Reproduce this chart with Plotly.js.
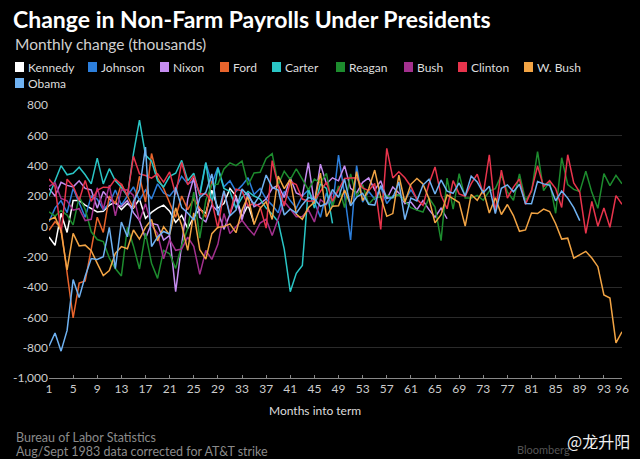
<!DOCTYPE html>
<html>
<head>
<meta charset="utf-8">
<script src="https://cdn.plot.ly/plotly-3.0.1.min.js"></script>
<style>html,body{margin:0;padding:0;background:#000;}#chart{width:640px;height:459px;}</style>
</head>
<body>
<div id="chart"></div>
<script>
// ---- Data (monthly change in non-farm payrolls, thousands) ----
const presidents = ['Kennedy','Johnson','Nixon','Ford','Carter','Reagan','Bush','Clinton','W. Bush','Obama'];
const colors = ['#ffffff','#2d7fdc','#c58cf0','#e8642c','#2ac6c6','#1d8c2e','#a3308e','#e8344c','#f2a444','#6fb2f2'];

const kennedy = [-70,-125,86,-40,170,170,140,120,95,100,140,160,110,150,120,180,53,92,120,140,100,26,73,-13,60,112,86,238,120,150,250,200,60,140,20];
const johnson = [30,120,170,90,250,160,60,200,180,110,150,240,140,200,260,170,240,180,280,220,200,250,330,280,300,220,420,280,390,260,300,230,270,320,210,250,180,140,90,230,170,120,200,240,160,60,220,130,470,210,-90,400,160,230,180,260,150,200,210,170,240,180];
const nixon = [250,200,290,270,260,300,250,240,120,230,180,150,130,170,90,40,-80,20,10,-90,-60,-430,-120,180,320,60,30,140,100,-20,80,190,40,220,130,150,180,250,270,190,320,220,200,420,150,410,280,320,300,400,250,220,290,320,240,300,180,260,220,150,160,110,170,110,60,120,50];
const ford = [-26,30,-10,-290,-604,-374,-360,-150,60,-40,200,150,280,200,120,330,160,480,320,250,150,60,200,110,180,120,60,300];
const carter = [200,300,400,340,350,390,340,280,450,280,380,300,257,200,480,700,470,430,300,260,330,350,435,300,350,200,420,150,383,250,230,120,190,230,200,180,120,80,30,-150,-431,-310,-258,250,120,280,250,20];
const reagan = [95,67,104,74,10,196,112,-36,-87,-100,-209,-278,-327,-6,-129,-281,-45,-243,-343,-158,-181,-277,-124,-14,225,-78,173,276,277,378,418,400,430,271,352,356,447,479,275,363,308,379,312,241,311,286,349,128,266,124,346,195,274,146,190,193,204,187,209,168,123,107,94,187,127,-94,318,114,347,186,186,204,172,232,249,338,227,172,345,171,228,492,236,293,86,452,276,244,229,363,224,119,347,268,336,281];
const bush = [263,288,184,168,106,116,38,46,254,112,272,69,240,241,204,35,149,8,-47,-214,-87,-158,-150,-71,-132,-317,-159,-218,-119,84,-48,-2,40,-12,-57,22,47,-61,55,164,114,64,65,109,29,177,143,224];
const clinton = [312,264,-44,311,265,170,303,165,237,258,256,311,276,201,462,346,335,318,346,291,359,210,421,273,334,214,215,166,-14,232,80,245,234,134,151,128,-12,433,266,133,295,276,180,166,168,234,291,166,237,316,318,320,253,235,283,-20,514,319,360,320,263,178,138,281,392,204,116,301,214,198,281,344,213,472,92,370,186,259,313,145,237,398,262,301,249,124,472,286,224,-46,164,0,121,-6,203,145];
const wbush = [42,61,-31,-287,-46,-129,-124,-160,-244,-325,-292,-178,-134,-148,-24,-84,-7,45,-96,-3,-56,122,7,-159,88,-154,-216,-48,-6,-2,16,-42,107,199,12,119,162,45,332,249,310,81,47,122,160,351,64,133,136,240,142,360,170,246,371,194,66,84,337,159,277,315,280,182,23,77,207,184,157,2,210,171,238,88,188,78,144,71,-33,-24,88,84,114,98,17,-84,-78,-210,-185,-165,-209,-266,-452,-473,-769,-695];
const obama = [-791,-703,-823,-686,-351,-470,-329,-212,-219,-200,-7,-279,28,-69,163,243,522,-133,-70,-34,-52,257,123,88,42,188,225,346,73,235,70,107,246,202,146,207,338,257,239,75,115,87,143,190,181,132,149,243,190,311,135,192,218,146,140,269,185,189,291,45,187,168,272,310,213,306,232,218,286,200,331,292,221,265,84,251,273,228,277,150,149,295,280,271,168,233,186,123,38];

const series = [kennedy, johnson, nixon, ford, carter, reagan, bush, clinton, wbush, obama];

const xTicks = [1,5,9,13,17,21,25,29,33,37,41,45,49,53,57,61,65,69,73,77,81,85,89,93,96];
const yTicks = [-1000,-800,-600,-400,-200,0,200,400,600,800];
const yTickText = ['-1,000','-800','-600','-400','-200','0','200','400','600','800'];

// ---- Layout helpers (pixel -> paper) ----
const W = 640, H = 459;
const M = {l: 49, r: 18, t: 105, b: 81};
const PW = W - M.l - M.r, PH = H - M.t - M.b;
const px = v => (v - M.l) / PW;
const py = v => (H - M.b - v) / PH;

const traces = series.map((vals, i) => ({
  type: 'scatter', mode: 'lines', name: presidents[i],
  x: vals.map((_, k) => k + 1), y: vals,
  line: {color: colors[i], width: 1.5},
  hoverinfo: 'skip'
}));

const FONT = 'Lato, "Open Sans", sans-serif';
const annotations = [];
const shapes = [];

annotations.push({xref:'paper', yref:'paper', x: px(13), y: py(44), xanchor:'left', yanchor:'middle',
  text:'Monthly change (thousands)', showarrow:false, font:{family:FONT, size:15.5, color:'#d0d0d0'}});

// custom legend
const legendX = [15, 88, 160, 220, 272, 336, 404, 458, 524, 15];
const legendY = [67, 67, 67, 67, 67, 67, 67, 67, 67, 83];
presidents.forEach((name, i) => {
  const lx = legendX[i], ly = legendY[i];
  shapes.push({type:'rect', xref:'paper', yref:'paper', x0: px(lx), x1: px(lx + 9), y0: py(ly + 5), y1: py(ly - 5),
    fillcolor: colors[i], line:{width:0}});
  annotations.push({xref:'paper', yref:'paper', x: px(lx + 11), y: py(ly), xanchor:'left', yanchor:'middle',
    text: name, showarrow:false, font:{family:FONT, size:12, color:'#dddddd'}});
});

annotations.push({xref:'paper', yref:'paper', x: px(315), y: py(410), xanchor:'center', yanchor:'middle',
  text:'Months into term', showarrow:false, font:{family:FONT, size:12, color:'#dddddd'}});
annotations.push({xref:'paper', yref:'paper', x: px(14), y: py(437), xanchor:'left', yanchor:'middle',
  text:'Bureau of Labor Statistics', showarrow:false, font:{family:FONT, size:12.5, color:'#8a8a8a'}});
annotations.push({xref:'paper', yref:'paper', x: px(14), y: py(451), xanchor:'left', yanchor:'middle',
  text:'Aug/Sept 1983 data corrected for AT&amp;T strike', showarrow:false, font:{family:FONT, size:12.5, color:'#8a8a8a'}});
annotations.push({xref:'paper', yref:'paper', x: px(572), y: py(449), xanchor:'right', yanchor:'middle',
  text:'Bloomberg', showarrow:false, font:{family:FONT, size:11, color:'#555555'}});
annotations.push({xref:'paper', yref:'paper', x: px(632), y: py(441), xanchor:'right', yanchor:'middle',
  text:'@龙升阳', showarrow:false, font:{family:'"Noto Sans CJK SC", sans-serif', size:16, color:'#f0f0f0'}});

const layout = {
  width: W, height: H,
  paper_bgcolor: '#000', plot_bgcolor: '#000',
  margin: M, showlegend: false,
  title: {text: '<b>Change in Non-Farm Payrolls Under Presidents</b>', x: 13 / W, xref: 'container', xanchor: 'left',
    y: 1 - 20 / H, yref: 'container', yanchor: 'middle', font: {family: FONT, size: 23, color: '#ffffff'}},
  xaxis: {range: [1, 96], tickvals: xTicks, ticks: 'inside', ticklen: 3, tickcolor: '#888', showline: true,
    linecolor: '#888', linewidth: 1, showgrid: false, zeroline: false,
    tickfont: {family: FONT, size: 12, color: '#cccccc'}, fixedrange: true},
  yaxis: {range: [-1000, 800], tickvals: yTicks, ticktext: yTickText, showgrid: true, gridcolor: '#2a2a2a',
    gridwidth: 1, zeroline: false, showline: false, ticks: '',
    tickfont: {family: FONT, size: 12, color: '#cccccc'}, fixedrange: true},
  annotations: annotations, shapes: shapes
};

Plotly.newPlot('chart', traces, layout, {staticPlot: true, displayModeBar: false});
</script>
</body>
</html>
